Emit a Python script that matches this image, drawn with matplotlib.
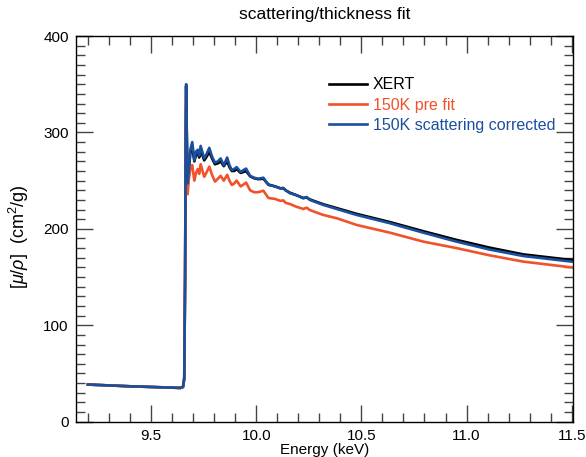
import matplotlib
matplotlib.use('Agg')
import matplotlib.pyplot as plt
from matplotlib.ticker import MultipleLocator, FormatStrFormatter

plt.rcParams['font.family'] = ['Liberation Sans', 'DejaVu Sans']
plt.rcParams['mathtext.fontset'] = 'custom'
plt.rcParams['mathtext.rm'] = 'Liberation Sans'
plt.rcParams['mathtext.it'] = 'Liberation Sans:italic'

# energy grid (keV)
energy = [9.20, 9.30, 9.40, 9.50, 9.60, 9.640, 9.652, 9.658, 9.662, 9.665,
          9.667, 9.670, 9.674, 9.680, 9.687, 9.696, 9.706, 9.714, 9.722, 9.729,
          9.736, 9.745, 9.753, 9.765, 9.777, 9.790, 9.804, 9.818, 9.831, 9.846,
          9.862, 9.873, 9.884, 9.895, 9.907, 9.926, 9.940, 9.952, 9.971, 9.990,
          10.010, 10.034, 10.058, 10.090, 10.115, 10.129, 10.140, 10.160, 10.190, 10.224,
          10.240, 10.255, 10.319, 10.383, 10.478, 10.636, 10.795, 10.953, 11.11, 11.27,
          11.50]

xert = [38.5, 37.6, 36.7, 36.0, 35.3, 35.0, 36.0, 45, 150, 300,
        348, 298, 249, 262, 279, 285, 270, 277, 279, 274,
        282, 276, 271, 275, 280, 273, 267, 268, 270, 265,
        270, 264, 260, 260, 262, 258, 259, 260, 254.5, 252.5,
        251.5, 252, 246, 244, 242, 242, 240, 237.5, 235, 232,
        232.5, 230.5, 225.5, 221.5, 215.5, 207, 197.5, 188.5, 180.5, 173.5,
        167.7]

pre_fit = [38.5, 37.6, 36.7, 36.0, 35.3, 35.0, 36.0, 45, 150, 290,
           340, 280, 236, 252, 262, 266, 250, 258, 262, 257,
           267, 260, 254, 259, 264.5, 256, 249, 252, 255, 250,
           256, 250, 245.5, 247, 250, 244, 246, 248, 240, 238,
           238, 239.6, 232, 231, 229, 229.5, 227, 225.8, 223, 220.6,
           222, 219.5, 214.4, 211, 204, 196, 186.7, 180, 172.5, 166,
           160]

corrected = [38.5, 37.6, 36.7, 36.0, 35.3, 35.0, 36.0, 45, 150, 300,
             350, 300, 247, 262, 282, 290, 271, 280, 282, 276,
             286, 279, 273, 278, 284, 275, 268.7, 270, 273, 266,
             274, 266, 261, 262, 264, 259, 261, 262.5, 255, 253,
             252, 253, 245.5, 244, 242, 242.5, 240, 237, 235, 231.7,
             233, 230, 224.8, 220.6, 214.4, 205.8, 196, 186.7, 178.5, 171.8,
             166]

fig = plt.figure(figsize=(5.86, 4.57), dpi=100)
ax = fig.add_axes([0.1292, 0.0773, 0.8486, 0.8439])

ax.plot(energy, xert, color='black', lw=1.9, label='XERT')
ax.plot(energy, pre_fit, color='#f0522a', lw=1.9, label='150K pre fit')
ax.plot(energy, corrected, color='#1a4f9e', lw=1.9, label='150K scattering corrected')

ax.set_xlim(9.142, 11.506)
ax.set_ylim(0, 400)
ax.xaxis.set_major_locator(MultipleLocator(0.5))
ax.xaxis.set_minor_locator(MultipleLocator(0.1))
ax.yaxis.set_major_locator(MultipleLocator(100))
ax.yaxis.set_minor_locator(MultipleLocator(10))
ax.xaxis.set_major_formatter(FormatStrFormatter('%.1f'))

ax.tick_params(which='both', direction='in', top=True, right=True,
               labelsize=11, width=1.0, color='#444444')
ax.tick_params(which='major', length=12, pad=5)
ax.tick_params(which='minor', length=6.5)
for s in ax.spines.values():
    s.set_linewidth(1.0)

ax.set_title('scattering/thickness fit', fontsize=12.5, pad=12)
ax.set_xlabel('Energy (keV)', fontsize=11, labelpad=0)
ax.set_ylabel(r'[$\mu/\rho$]  (cm$^2$/g)', fontsize=13)
ax.yaxis.set_label_coords(-0.09, 0.48)

leg = ax.legend(loc='upper left', bbox_to_anchor=(0.48, 0.93), frameon=False,
                fontsize=11.5, handlelength=2.4, handletextpad=0.35,
                labelspacing=0.33, labelcolor='linecolor')

fig.savefig('out.png', dpi=100)
